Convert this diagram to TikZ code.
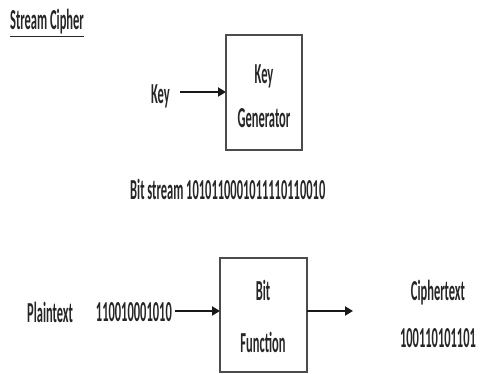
\documentclass[tikz,border=0pt]{standalone}
\usepackage{fontspec}
\setmainfont[FakeStretch=0.43]{Carlito}
\usetikzlibrary{arrows.meta}
\begin{document}
\begin{tikzpicture}[x=1pt,y=-1pt,
  lbl/.style={inner sep=0pt,font=\fontsize{29}{31}\selectfont\bfseries,text=black!85},
  boxst/.style={draw=black!70,line width=2pt},
  arr/.style={-{Triangle[length=8pt,width=9pt]},line width=2.6pt,black!90}]
\useasboundingbox (0,0) rectangle (480,374);
\node[lbl,anchor=west] (title) at (10,23) {\underline{Stream Cipher}};
\draw[boxst] (226,35) rectangle (302,150);
\node[lbl] (kg1) at (264,76) {Key};
\node[lbl] (kg2) at (264,118) {Generator};
\coordinate (kgw) at (226,92);
\coordinate (ks) at (180,92);
\node[lbl,anchor=east] (key) at (170,96) {Key};
\draw[arr] (ks) -- (kgw);
\node[lbl,anchor=west] (bs) at (130,189) {Bit stream 1010110001011110110010};
\draw[boxst] (220,258) rectangle (307,372);
\node[lbl] (bf1) at (263,290) {Bit};
\node[lbl] (bf2) at (263,342) {Function};
\coordinate (bfw) at (220,311);
\coordinate (bfe) at (307,311);
\coordinate (ps) at (175,311);
\node[lbl,anchor=west] (pt) at (27,312) {Plaintext};
\node[lbl,anchor=east] (pd) at (172,312) {110010001010};
\draw[arr] (ps) -- (bfw);
\coordinate (oe) at (353,311);
\draw[arr] (bfe) -- (oe);
\node[lbl] (ct1) at (438,293) {Ciphertext};
\node[lbl] (ct2) at (438,338) {100110101101};
\end{tikzpicture}
\end{document}
